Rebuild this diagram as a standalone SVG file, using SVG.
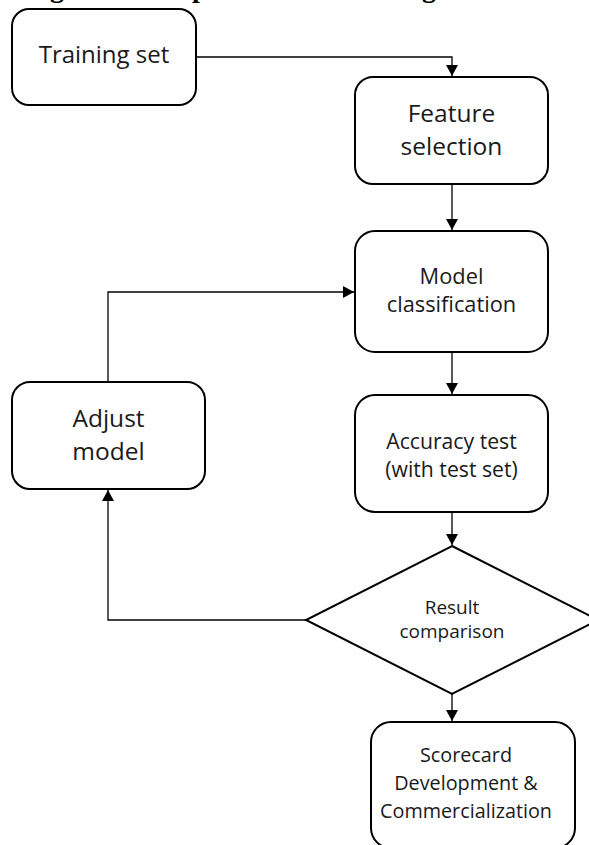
<svg xmlns="http://www.w3.org/2000/svg" width="589" height="845" viewBox="0 0 589 845">
  <style>
    .box { fill: #ffffff; stroke: #000000; stroke-width: 2; }
    .lbl { font-family: "Open Sans", "Noto Sans", "DejaVu Sans", sans-serif; fill: #1a1a1a; text-anchor: middle; }
    .wire { fill: none; stroke: #000000; stroke-width: 1.3; }
    .title { font-family: "Liberation Serif", "Times New Roman", serif; font-weight: bold; font-size: 28px; fill: #000000; }
  </style>
  <defs>
    <marker id="arrow" markerUnits="userSpaceOnUse" markerWidth="12" markerHeight="12" refX="11" refY="6" orient="auto">
      <path d="M0,0 L11,6 L0,12 Z" fill="#000000"/>
    </marker>
  </defs>
  <rect width="589" height="845" fill="#ffffff"/>

  <!-- caption line, mostly above the top edge -->
  <text class="title" x="25" y="-3">Figure 1. The process<tspan dx="8"> of modeling</tspan></text>

  <g id="connectors">
    <path class="wire" d="M196,57 H452 V76" marker-end="url(#arrow)"/>
    <path class="wire" d="M452,184 V230" marker-end="url(#arrow)"/>
    <path class="wire" d="M452,352 V394" marker-end="url(#arrow)"/>
    <path class="wire" d="M452,512 V545" marker-end="url(#arrow)"/>
    <path class="wire" d="M452,694 V721" marker-end="url(#arrow)"/>
    <path class="wire" d="M306,620 H108 V490" marker-end="url(#arrow)"/>
    <path class="wire" d="M108,382 V292 H354" marker-end="url(#arrow)"/>
  </g>

  <g id="training-set">
    <rect class="box" x="12" y="9" width="184" height="96" rx="17"/>
    <text class="lbl" x="104" y="63" font-size="24">Training set</text>
  </g>

  <g id="feature-selection">
    <rect class="box" x="355" y="77" width="193" height="107" rx="18"/>
    <text class="lbl" x="451.5" y="122" font-size="24.5">Feature</text>
    <text class="lbl" x="451.5" y="155" font-size="24.5">selection</text>
  </g>

  <g id="model-classification">
    <rect class="box" x="355" y="231" width="193" height="121" rx="20"/>
    <text class="lbl" x="451.5" y="284" font-size="21.8">Model</text>
    <text class="lbl" x="451.5" y="312" font-size="21.8">classification</text>
  </g>

  <g id="adjust-model">
    <rect class="box" x="12" y="382" width="193" height="107" rx="18"/>
    <text class="lbl" x="108.5" y="427" font-size="24.5">Adjust</text>
    <text class="lbl" x="108.5" y="460" font-size="24.5">model</text>
  </g>

  <g id="accuracy-test">
    <rect class="box" x="355" y="395" width="193" height="117" rx="20"/>
    <text class="lbl" x="451.5" y="449" font-size="21.2">Accuracy test</text>
    <text class="lbl" x="451.5" y="477" font-size="21.2">(with test set)</text>
  </g>

  <g id="result-comparison">
    <polygon class="box" points="452,546 598,620 452,694 306,620"/>
    <text class="lbl" x="452" y="614" font-size="19">Result</text>
    <text class="lbl" x="452" y="638" font-size="19">comparison</text>
  </g>

  <g id="scorecard">
    <rect class="box" x="371" y="722" width="204" height="126" rx="20"/>
    <text class="lbl" x="466" y="762" font-size="19.8">Scorecard</text>
    <text class="lbl" x="466" y="790" font-size="19.8">Development &amp;</text>
    <text class="lbl" x="466" y="818" font-size="19.8">Commercialization</text>
  </g>
</svg>
